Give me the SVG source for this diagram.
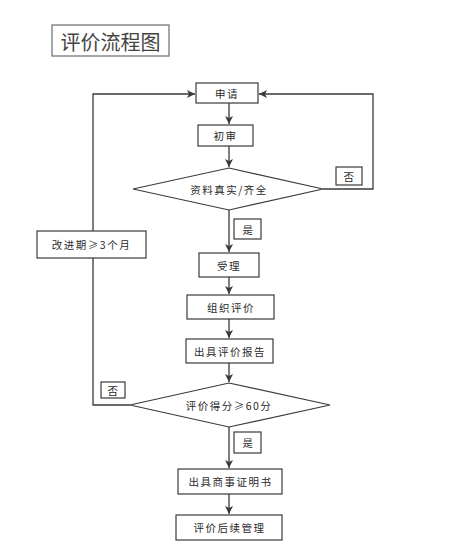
<svg xmlns="http://www.w3.org/2000/svg" width="469" height="560" viewBox="0 0 469 560">
<style>
.box{fill:#fff;stroke:#3a3a3a;stroke-width:1.2}
.t{font-family:"Noto Sans CJK SC","Noto Sans",sans-serif;font-size:10.5px;fill:#2a2a2a;text-anchor:middle;dominant-baseline:central;letter-spacing:1.5px}
.ln{fill:none;stroke:#3a3a3a;stroke-width:1.3}
</style>
<defs>
<marker id="ar" viewBox="0 0 10 10" refX="10" refY="5" markerWidth="8" markerHeight="8" markerUnits="userSpaceOnUse" orient="auto">
<path d="M0,0 L10,5 L0,10 L2.5,5 Z" fill="#3a3a3a"/>
</marker>
</defs>
<rect width="469" height="560" fill="#fff"/>
<g id="title">
<rect x="52" y="25" width="117" height="31" fill="#fff" stroke="#777" stroke-width="1.3"/>
<text x="110.5" y="41" font-family="Noto Sans CJK SC,sans-serif" font-size="20" fill="#444" text-anchor="middle" dominant-baseline="central">评价流程图</text>
</g>
<g id="connectors">
<line class="ln" x1="229" y1="103" x2="229" y2="124" marker-end="url(#ar)"/>
<line class="ln" x1="229" y1="146" x2="229" y2="167" marker-end="url(#ar)"/>
<line class="ln" x1="229" y1="210" x2="229" y2="252" marker-end="url(#ar)"/>
<line class="ln" x1="229" y1="277" x2="229" y2="294" marker-end="url(#ar)"/>
<line class="ln" x1="229" y1="319" x2="229" y2="338" marker-end="url(#ar)"/>
<line class="ln" x1="229" y1="363" x2="229" y2="382" marker-end="url(#ar)"/>
<line class="ln" x1="229" y1="427" x2="229" y2="468" marker-end="url(#ar)"/>
<line class="ln" x1="229" y1="494" x2="229" y2="514" marker-end="url(#ar)"/>
<polyline class="ln" points="323,189 373,189 373,94 259,94" marker-end="url(#ar)"/>
<polyline class="ln" points="130,405 93,405 93,94 195,94" marker-end="url(#ar)"/>
</g>
<g id="n1"><rect class="box" x="196" y="83" width="62" height="20"/><text class="t" x="227" y="93">申请</text></g>
<g id="n2"><rect class="box" x="198" y="125" width="55" height="21"/><text class="t" x="225.5" y="135.5">初审</text></g>
<g id="d1"><polygon class="box" points="229,168 323,189 229,210 133,189"/><text class="t" x="229" y="189">资料真实/齐全</text></g>
<g id="no1"><rect class="box" x="336" y="167" width="26" height="18"/><text class="t" x="349.5" y="176">否</text></g>
<g id="yes1"><rect class="box" x="234" y="219" width="27" height="20"/><text class="t" x="248.5" y="229">是</text></g>
<g id="improve"><rect class="box" x="37" y="231" width="109" height="27"/><text class="t" x="91.5" y="244.5">改进期≥3个月</text></g>
<g id="n3"><rect class="box" x="199" y="253" width="60" height="24"/><text class="t" x="229" y="265">受理</text></g>
<g id="n4"><rect class="box" x="187" y="295" width="87" height="24"/><text class="t" x="231" y="307">组织评价</text></g>
<g id="n5"><rect class="box" x="186" y="339" width="87" height="24"/><text class="t" x="230" y="351">出具评价报告</text></g>
<g id="d2"><polygon class="box" points="229,383 330,405 229,427 130,405"/><text class="t" x="229" y="405">评价得分≥60分</text></g>
<g id="no2"><rect class="box" x="101" y="382" width="24" height="16"/><text class="t" x="113.5" y="390">否</text></g>
<g id="yes2"><rect class="box" x="234" y="432" width="27" height="21"/><text class="t" x="248.5" y="442.5">是</text></g>
<g id="n6"><rect class="box" x="178" y="469" width="104" height="25"/><text class="t" x="230.5" y="481.5">出具商事证明书</text></g>
<g id="n7"><rect class="box" x="176" y="515" width="106" height="25"/><text class="t" x="229.5" y="527.5">评价后续管理</text></g>
</svg>
